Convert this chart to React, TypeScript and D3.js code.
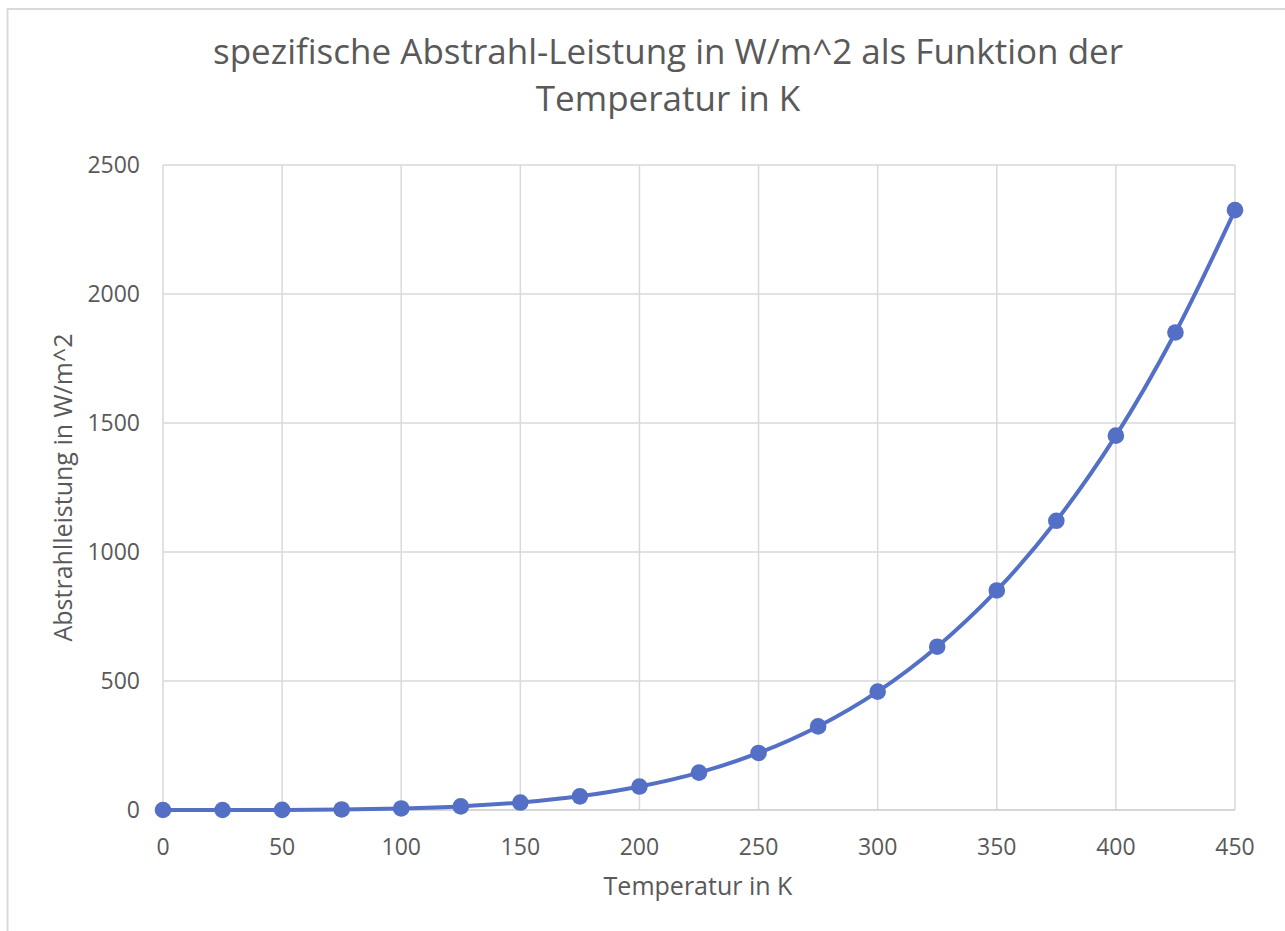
import React, { useEffect, useRef } from "react";
import * as d3 from "d3";

// Temperatur in K
const temperatures = [0, 25, 50, 75, 100, 125, 150, 175, 200, 225, 250, 275, 300, 325, 350, 375, 400, 425, 450];
// Abstrahlleistung in W/m^2
const power = [0, 0, 0.4, 2, 6, 14, 29, 53, 91, 145, 221, 324, 459, 633, 851, 1121, 1451, 1851, 2325];

const xTicks = [0, 50, 100, 150, 200, 250, 300, 350, 400, 450];
const yTicks = [0, 500, 1000, 1500, 2000, 2500];

const titleLines = ["spezifische Abstrahl-Leistung in W/m^2 als Funktion der", "Temperatur in K"];
const xTitle = "Temperatur in K";
const yTitle = "Abstrahlleistung in W/m^2";

const App = () => {
  const chartRef = useRef<SVGSVGElement | null>(null);

  useEffect(() => {
    const svg = d3.select(chartRef.current);
    svg.selectAll("*").remove();

    const width = 1285;
    const height = 931;
    const margin = { top: 165, right: 50, bottom: 121, left: 163 };
    const font = "'Open Sans', sans-serif";
    const textColor = "#595959";
    const gridColor = "#d9d9d9";
    const seriesColor = "#5470c6";

    // chart frame (runs off the right and bottom of the picture)
    svg
      .append("rect")
      .attr("x", 7.5)
      .attr("y", 9)
      .attr("width", width)
      .attr("height", height)
      .attr("fill", "#fff")
      .attr("stroke", gridColor)
      .attr("stroke-width", 2);

    const x = d3
      .scaleLinear()
      .domain([0, 450])
      .range([margin.left, width - margin.right]);

    const y = d3
      .scaleLinear()
      .domain([0, 2500])
      .range([height - margin.bottom, margin.top]);

    // gridlines
    svg
      .append("g")
      .selectAll("line")
      .data(xTicks)
      .enter()
      .append("line")
      .attr("x1", (d) => x(d))
      .attr("x2", (d) => x(d))
      .attr("y1", y(2500))
      .attr("y2", y(0))
      .attr("stroke", gridColor)
      .attr("stroke-width", 1.5);

    svg
      .append("g")
      .selectAll("line")
      .data(yTicks.filter((d) => d > 0))
      .enter()
      .append("line")
      .attr("x1", x(0))
      .attr("x2", x(450))
      .attr("y1", (d) => y(d))
      .attr("y2", (d) => y(d))
      .attr("stroke", gridColor)
      .attr("stroke-width", 1.5);

    // x axis line
    svg
      .append("line")
      .attr("x1", x(0))
      .attr("x2", x(450))
      .attr("y1", y(0))
      .attr("y2", y(0))
      .attr("stroke", "#c8c8c8")
      .attr("stroke-width", 1.5);

    // tick labels
    svg
      .append("g")
      .selectAll("text")
      .data(xTicks)
      .enter()
      .append("text")
      .attr("x", (d) => x(d))
      .attr("y", 855)
      .attr("text-anchor", "middle")
      .style("font-family", font)
      .style("font-size", "23px")
      .style("fill", textColor)
      .text((d) => d);

    svg
      .append("g")
      .selectAll("text")
      .data(yTicks)
      .enter()
      .append("text")
      .attr("x", 140)
      .attr("y", (d) => y(d))
      .attr("dy", "0.36em")
      .attr("text-anchor", "end")
      .style("font-family", font)
      .style("font-size", "23px")
      .style("fill", textColor)
      .text((d) => d);

    // series
    const points = temperatures.map((t, i) => [t, power[i]] as [number, number]);

    const line = d3
      .line<[number, number]>()
      .x((d) => x(d[0]))
      .y((d) => y(d[1]))
      .curve(d3.curveCatmullRom.alpha(0.5));

    svg
      .append("path")
      .datum(points)
      .attr("d", line)
      .attr("fill", "none")
      .attr("stroke", seriesColor)
      .attr("stroke-width", 4);

    svg
      .append("g")
      .selectAll("circle")
      .data(points)
      .enter()
      .append("circle")
      .attr("cx", (d) => x(d[0]))
      .attr("cy", (d) => y(d[1]))
      .attr("r", 8.3)
      .attr("fill", seriesColor);

    // title
    svg
      .append("g")
      .selectAll("text")
      .data(titleLines)
      .enter()
      .append("text")
      .attr("x", 668)
      .attr("y", (d, i) => 64 + i * 47)
      .attr("text-anchor", "middle")
      .style("font-family", font)
      .style("font-size", "35px")
      .style("fill", textColor)
      .text((d) => d);

    // axis titles
    svg
      .append("text")
      .attr("x", 698)
      .attr("y", 895)
      .attr("text-anchor", "middle")
      .style("font-family", font)
      .style("font-size", "25px")
      .style("fill", textColor)
      .text(xTitle);

    svg
      .append("text")
      .attr("transform", `translate(72,${(y(0) + y(2500)) / 2}) rotate(-90)`)
      .attr("text-anchor", "middle")
      .style("font-family", font)
      .style("font-size", "25px")
      .style("fill", textColor)
      .text(yTitle);
  }, []);

  return (
    <svg
      ref={chartRef}
      width={1285}
      height={931}
      style={{ position: "absolute", left: 0, top: 0, background: "#fff" }}
    />
  );
};

export default App;
